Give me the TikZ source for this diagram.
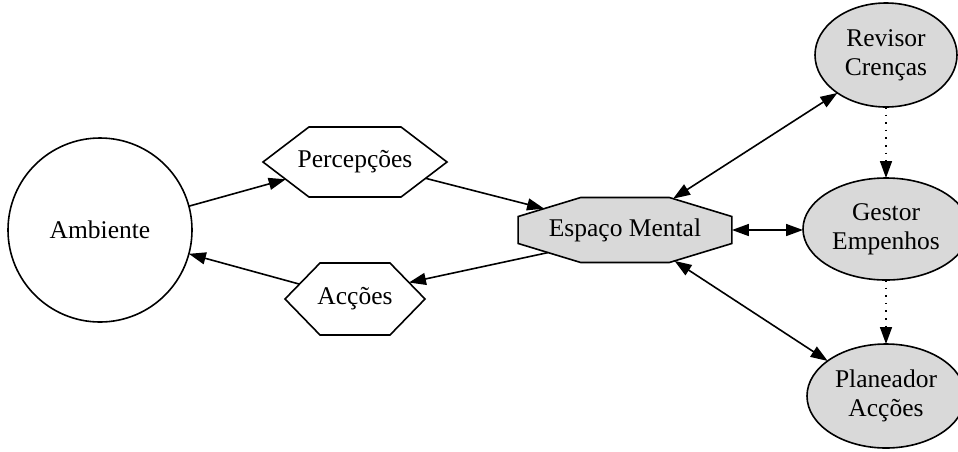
\documentclass[tikz,border=0pt]{standalone}
\usepackage{fontspec}
\setmainfont{Liberation Serif}
\usetikzlibrary{shapes.geometric,shapes.symbols,arrows.meta}
\definecolor{nodegray}{HTML}{D9D9D9}
\begin{document}
\begin{tikzpicture}[x=1pt,y=-1pt,
  every node/.style={font=\fontsize{25.5}{29}\selectfont, align=center, inner sep=0pt, outer sep=0pt, line width=1.6pt},
  world/.style={draw, circle, minimum size=184pt},
  hexbox/.style={draw, signal, signal to=west and east},
  % a regular octagon stretched sideways (the outline only)
  octbox/.style={draw, fill=nodegray, regular polygon, regular polygon sides=8,
    minimum size=70.36pt, xscale=3.29, transform shape},
  module/.style={draw, fill=nodegray, ellipse},
  link/.style={line width=1.6pt, -{Triangle[length=17pt,width=12pt]}},
  dlink/.style={line width=1.6pt, {Triangle[length=17pt,width=12pt]}-{Triangle[length=17pt,width=12pt]}},
  seq/.style={line width=1.6pt, dash pattern=on 1.6pt off 6pt, -{Triangle[length=17pt,width=12pt]}}]
\useasboundingbox (0,0) rectangle (958,451);

% agent environment and its interfaces
\node[world] (amb) at (100,230) {Ambiente};
\node[hexbox, signal pointer angle=74.6, minimum width=184pt, minimum height=70pt,
      label={center:Percepções}] (perc) at (355,162) {};
\node[hexbox, signal pointer angle=91.6, minimum width=140pt, minimum height=72pt,
      label={center:Acções}] (acc) at (355,299) {};

% mental space and its modules
\node[octbox] (esp) at (625,230) {};
\node (esptext) at (esp.center) {Espaço Mental};
\node[module, minimum width=142pt, minimum height=104pt] (rev) at (886,55) {Revisor\\Crenças};
\node[module, minimum width=166pt, minimum height=102pt] (gest) at (886,229) {Gestor\\Empenhos};
\node[module, minimum width=158pt, minimum height=104pt] (plan) at (886,396) {Planeador\\Acções};

% flow between environment and mental space
\draw[link] (amb.15) -- (perc.194);
\draw[link] (perc.-13) -- (esp.139.5);
\draw[link] (esp.224) -- (acc.17);
\draw[link] (acc.165) -- (amb.-15);

% mental space to modules
\draw[dlink] (esp.65.3) -- (rev.218);
\draw[dlink] (esp.east) -- (esp.east -| gest.west);
\draw[dlink] (esp.-64.4) -- (plan.149);

% module sequence
\draw[seq] (rev.south) -- (gest.north);
\draw[seq] (gest.south) -- (plan.north);
\end{tikzpicture}
\end{document}
